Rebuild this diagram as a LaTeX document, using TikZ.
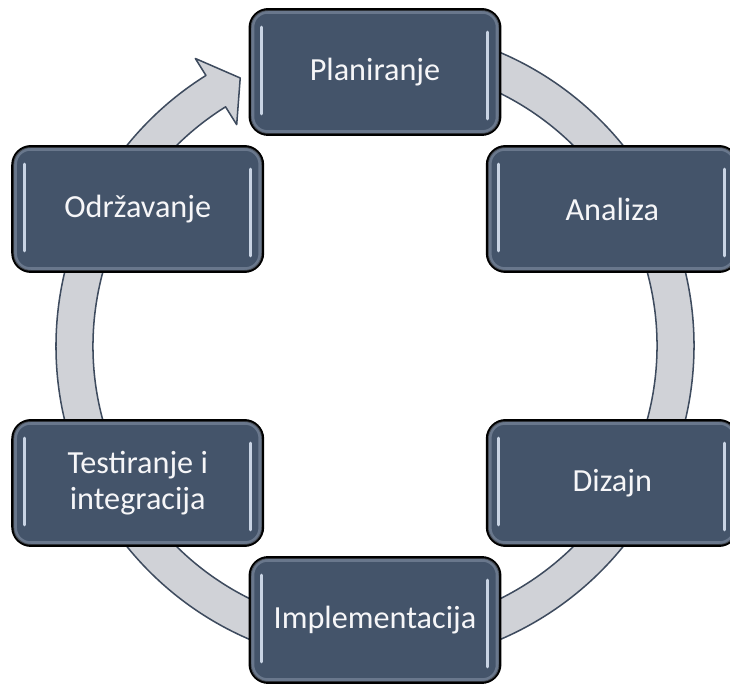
\documentclass[tikz,border=0pt]{standalone}
\usepackage{fontspec}
\setmainfont{Carlito}
\usepackage{xcolor}
\usepackage{tikz}
\usetikzlibrary{positioning}
\definecolor{boxfill}{HTML}{44546A}
\definecolor{boxrim}{HTML}{8E9BAE}
\definecolor{shine}{HTML}{C9D4E4}
\definecolor{ringfill}{HTML}{D0D2D7}
\definecolor{ringline}{HTML}{3E4B5E}
\begin{document}
\begin{tikzpicture}[
x=0.03cm, y=0.03cm,
phasebox/.style={rectangle, rounded corners=0.55cm, draw=black, fill=boxfill, line width=2.5pt, minimum width=7.5cm, minimum height=3.75cm, align=center, text=white!95!boxfill, font=\fontsize{27.5}{31}\selectfont},
ringband/.style={fill=ringfill, draw=ringline, line width=1.3pt, line join=round},
shinebar/.style={shine, line width=2.4pt, line cap=round},
]
\useasboundingbox (0,0) rectangle (730,685);

\begin{scope}[shift={(375,339)}]
%Ring
\path[ringband] (85:319) arc[start angle=85, end angle=-238, radius=319]
  -- (-238:339) -- (-243.3:300) -- (-238:261) -- (-238:282)
  arc[start angle=-238, end angle=85, radius=282] -- cycle;

%Nodes
\node[phasebox]		(plan)		at (90:274)		{Planiranje};
\node[phasebox]		(analiza)	at (30:274)		{Analiza};
\node[phasebox]		(dizajn)	at (-30:274)	{Dizajn};
\node[phasebox]		(impl)		at (-90:274)	{Implementacija};
\node[phasebox]		(test)		at (-150:274)	{Testiranje i\\integracija};
\node[phasebox]		(odrz)		at (150:274)	{Održavanje};
\end{scope}

%Highlights
\foreach \n in {plan,analiza,dizajn,impl,test,odrz}{
  \draw[boxrim, opacity=0.5, line width=3pt, rounded corners=0.45cm]
    ([shift={(4,-4)}]\n.north west) rectangle ([shift={(-4,4)}]\n.south east);
  \draw[shinebar] ([shift={(13,-19)}]\n.north west) -- ([shift={(13,22)}]\n.south west);
  \draw[shinebar] ([shift={(-14,-24)}]\n.north east) -- ([shift={(-14,17)}]\n.south east);
}
\end{tikzpicture}
\end{document}
